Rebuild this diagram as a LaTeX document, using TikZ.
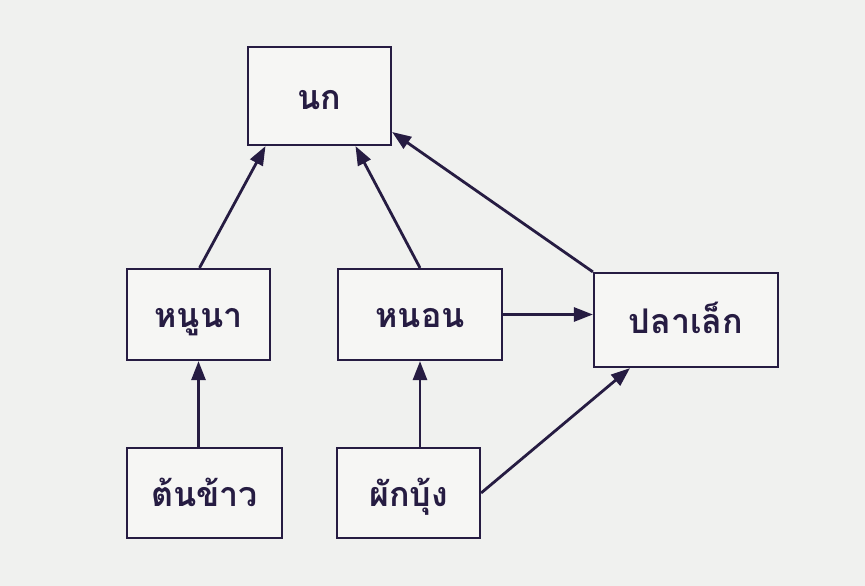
\documentclass[tikz,border=0pt]{standalone}
\usepackage{fontspec}
\newfontfamily\thaifont[Script=Thai]{Loma}
\usetikzlibrary{arrows.meta}
\definecolor{ink}{HTML}{261C42}
\definecolor{paper}{HTML}{F0F1EF}
\definecolor{boxfill}{HTML}{F6F6F4}
\tikzset{
  box/.style={draw=ink, fill=boxfill, line width=2.2pt, inner sep=0pt,
    text height=29pt, text depth=3pt,
    font=\thaifont\bfseries\fontsize{34}{38}\selectfont, text=ink},
  conn/.style={draw=ink, line width=2.8pt, -{Triangle[length=19pt,width=14pt]}}
}
\begin{document}
\begin{tikzpicture}[x=1pt,y=-1pt]
\fill[paper] (0,0) rectangle (865,586);
\useasboundingbox (0,0) rectangle (865,586);
\node[box, minimum width=143pt, minimum height=98pt] (nok) at (319.5,96) {นก};
\node[box, minimum width=143pt, minimum height=91pt] (nuna) at (198.5,314.5) {หนูนา};
\node[box, minimum width=164pt, minimum height=91pt] (non) at (420,314.5) {หนอน};
\node[box, minimum width=184pt, minimum height=94pt] (pla) at (686,320) {ปลาเล็ก};
\node[box, minimum width=155pt, minimum height=90pt] (ton) at (204.5,493) {ต้นข้าว};
\node[box, minimum width=143pt, minimum height=90pt] (phak) at (408.5,493) {ผักบุ้ง};
\draw[conn] ([xshift=1pt]nuna.north) -- ([xshift=-54pt]nok.south);
\draw[conn] (non.north) -- ([xshift=36pt]nok.south);
\draw[conn] (pla.north west) -- ([yshift=-36pt]nok.east);
\draw[conn] (non.east) -- (non.east -| pla.west);
\draw[conn] (ton.north -| nuna.south) -- (nuna.south);
\draw[conn] (phak.north -| non.south) -- (non.south);
\draw[conn] (phak.east) -- ([xshift=-56pt]pla.south);
\end{tikzpicture}
\end{document}
